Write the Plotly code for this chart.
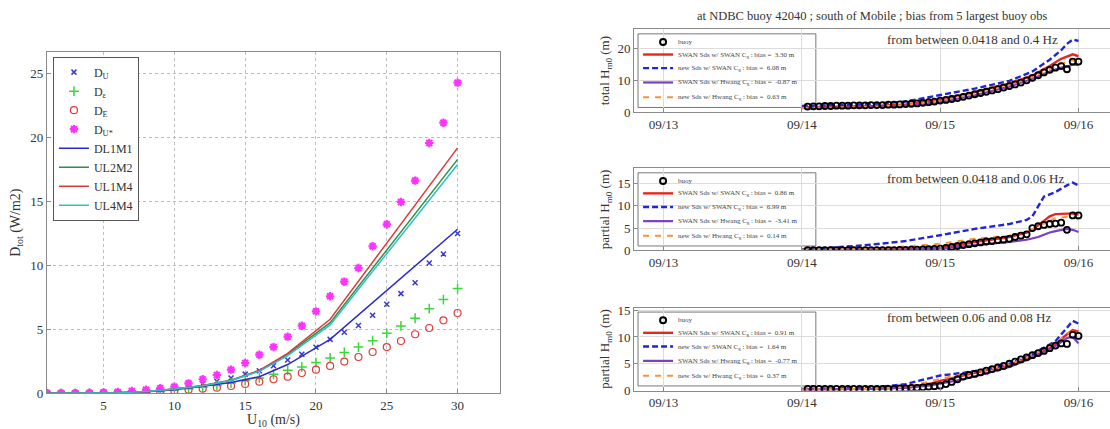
import plotly.graph_objects as go
import pandas as pd

# ---------------- Left panel data ----------------
u10 = list(range(1, 31))
d_u = [0, 0, 0.005, 0.01, 0.03, 0.06, 0.1, 0.18, 0.28, 0.4, 0.55, 0.75, 0.95, 1.2, 1.5,
       1.77, 2.16, 2.6, 3.05, 3.6, 4.22, 4.77, 5.3, 6.1, 6.96, 7.8, 8.65, 10.2, 10.9, 12.5]
d_eps = [0, 0, 0, 0.01, 0.02, 0.04, 0.07, 0.11, 0.18, 0.26, 0.36, 0.48, 0.62, 0.8, 1.0,
         1.2, 1.49, 1.8, 2.06, 2.4, 2.76, 3.2, 3.62, 4.12, 4.69, 5.27, 5.87, 6.62, 7.33, 8.2]
d_e = [0, 0, 0, 0, 0.01, 0.03, 0.05, 0.08, 0.13, 0.2, 0.27, 0.36, 0.44, 0.57, 0.73,
       0.91, 1.1, 1.3, 1.59, 1.85, 2.14, 2.48, 2.84, 3.23, 3.62, 4.09, 4.62, 5.11, 5.71, 6.28]
d_ustar = [0, 0, 0.01, 0.03, 0.06, 0.1, 0.18, 0.28, 0.39, 0.52, 0.78, 1.1, 1.43, 1.85, 2.37,
           3.02, 3.62, 4.43, 5.29, 6.41, 7.59, 8.74, 9.8, 11.5, 13.22, 14.97, 16.64, 19.58, 21.17, 24.3]

u_lines = [1, 4, 6, 8, 10, 12, 14, 16, 18, 21, 30]
dl1m1 = [0, 0.01, 0.04, 0.12, 0.28, 0.55, 0.85, 1.3, 2.25, 4.22, 12.83]
ul2m2 = [0, 0.01, 0.05, 0.14, 0.33, 0.6, 1.0, 1.75, 3.05, 5.53, 18.3]
ul1m4 = [0, 0.01, 0.05, 0.14, 0.34, 0.62, 1.03, 1.8, 3.13, 5.79, 19.2]
ul4m4 = [0, 0.01, 0.05, 0.14, 0.33, 0.6, 1.0, 1.72, 2.95, 5.35, 17.9]

# ---------------- Right panels data (hours after 2004-09-14 00:00) ----------------
buoy_hours = list(range(1, 49))
p1_buoy = [1.7, 1.8, 1.8, 1.9, 1.9, 2.0, 2.0, 2.0, 2.1, 2.1, 2.1, 2.2,
           2.2, 2.2, 2.3, 2.3, 2.4, 2.5, 2.6, 2.7, 2.9, 3.1, 3.3, 3.6,
           3.8, 4.1, 4.4, 4.8, 5.2, 5.6, 6.0, 6.4, 6.8, 7.2, 7.7, 8.2,
           8.7, 9.3, 10.0, 10.8, 11.6, 12.5, 13.3, 14.0, 14.5, 13.5, 15.9, 15.9]
p2_buoy = [0.1] * 12 + [0.1, 0.1, 0.1, 0.1, 0.15, 0.15, 0.2, 0.2, 0.25, 0.3, 0.35, 0.4,
                        0.6, 0.8, 1.0, 1.2, 1.4, 1.6, 1.8, 2.0, 2.1, 2.3, 2.4, 2.6,
                        3.0, 3.3, 3.6, 5.0, 5.4, 5.7, 5.9, 6.0, 6.2, 4.6, 7.8, 7.8]
p3_buoy = [0.3] * 12 + [0.3, 0.3, 0.3, 0.3, 0.4, 0.4, 0.5, 0.5, 0.6, 0.7, 0.8, 0.9,
                        1.2, 1.6, 2.1, 2.6, 2.9, 3.1, 3.4, 3.7, 4.0, 4.3, 4.6, 5.0,
                        5.4, 5.8, 6.2, 6.6, 7.0, 7.4, 7.9, 8.4, 8.8, 8.7, 10.4, 10.2]

p1_hours = [0, 6, 12, 18, 24, 30, 36, 40, 43, 45, 46, 47, 48]
p1_swan_swan = [1.5, 1.6, 1.8, 2.4, 3.9, 6.3, 9.0, 11.5, 14.5, 16.8, 17.6, 18.2, 17.6]
p1_new_swan = [1.9, 2.1, 2.5, 3.3, 5.3, 7.4, 9.8, 12.8, 16.5, 19.5, 21.5, 22.9, 22.4]
p1_swan_hwang = [1.2, 1.3, 1.5, 2.0, 3.1, 5.3, 8.0, 10.5, 12.8, 14.0, 14.3, 15.0, 14.8]
p1_new_hwang = [1.3, 1.4, 1.6, 2.2, 3.5, 5.8, 8.5, 11.0, 13.7, 15.3, 15.8, 16.3, 15.9]

p2_hours = [0, 6, 12, 18, 24, 30, 36, 39, 40, 41, 42, 43, 44, 46, 47, 48]
p2_swan_swan = [0.2, 0.2, 0.2, 0.3, 0.6, 1.9, 3.0, 4.0, 4.6, 5.5, 6.6, 7.6, 8.1, 8.2, 8.2, 8.0]
p2_new_swan = [0.3, 0.7, 1.3, 2.1, 3.4, 4.8, 5.9, 6.8, 7.6, 9.8, 12.0, 12.5, 13.0, 14.5, 15.1, 14.5]
p2_swan_hwang = [0.1, 0.1, 0.1, 0.2, 0.4, 1.1, 1.9, 2.4, 2.7, 3.0, 3.5, 4.0, 4.3, 4.8, 4.6, 4.1]
p2_new_hwang = [0.2, 0.3, 0.4, 0.9, 1.5, 2.6, 3.3, 4.2, 4.7, 5.3, 6.0, 6.6, 7.2, 7.5, 7.6, 7.0]

p3_hours = [0, 6, 12, 18, 22, 24, 28, 32, 36, 40, 44, 46, 47, 48]
p3_swan_swan = [0.2, 0.2, 0.3, 0.6, 1.2, 1.8, 2.8, 3.8, 4.8, 6.5, 8.6, 10.5, 11.3, 11.0]
p3_new_swan = [0.3, 0.4, 0.5, 1.2, 2.3, 2.8, 3.3, 4.0, 5.0, 6.8, 9.2, 11.8, 13.0, 12.5]
p3_swan_hwang = [0.2, 0.2, 0.3, 0.5, 0.9, 1.3, 2.1, 3.2, 4.4, 6.1, 8.3, 9.8, 10.0, 8.8]
p3_new_hwang = [0.2, 0.2, 0.3, 0.7, 1.6, 2.2, 3.0, 3.9, 4.9, 6.6, 8.9, 10.6, 11.0, 10.5]

bias_labels = [
    ["3.30", "6.08", "-0.87", "0.63"],
    ["0.86", "6.99", "-3.41", "0.14"],
    ["0.91", "1.64", "-0.77", "0.37"],
]
panel_notes = ["from between 0.0418 and 0.4 Hz",
               "from between 0.0418 and 0.06 Hz",
               "from between 0.06 and 0.08 Hz"]
panel_ytitles = ["total H<sub>m0</sub> (m)", "partial H<sub>m0</sub> (m)", "partial H<sub>m0</sub> (m)"]
panel_ticks = [[0, 10, 20], [0, 5, 10, 15], [0, 5, 10, 15]]
panel_yranges = [[0, 26.1], [0, 18.3], [0, 15.5]]
date_ticks = ["2004-09-13", "2004-09-14", "2004-09-15", "2004-09-16"]
date_ticktext = ["09/13", "09/14", "09/15", "09/16"]
series_names = ["SWAN Sds w/ SWAN C<sub>g</sub> : bias = ",
                "new Sds w/ SWAN C<sub>g</sub> : bias = ",
                "SWAN Sds w/ Hwang C<sub>g</sub> : bias = ",
                "new Sds w/ Hwang C<sub>g</sub> : bias = "]

FONT = "Liberation Serif"
base = pd.Timestamp("2004-09-14 00:00")


def to_dates(hours):
    return [base + pd.Timedelta(hours=h) for h in hours]


fig = go.Figure()

# ---- left panel traces ----
fig.add_trace(go.Scatter(x=u10, y=d_u, mode="markers", name="D<sub>U</sub>",
                         marker=dict(symbol="x-thin-open", size=5, color="#3a3acf",
                                     line=dict(width=1.5, color="#3a3acf"))))
fig.add_trace(go.Scatter(x=u10, y=d_eps, mode="markers", name="D<sub>ε</sub>",
                         marker=dict(symbol="cross-thin-open", size=7, color="#3bd63b",
                                     line=dict(width=1.5, color="#3bd63b"))))
fig.add_trace(go.Scatter(x=u10, y=d_e, mode="markers", name="D<sub>E</sub>",
                         marker=dict(symbol="circle-open", size=7, color="#e03c3c",
                                     line=dict(width=1.2, color="#e03c3c"))))
fig.add_trace(go.Scatter(x=u10, y=d_ustar, mode="markers", name="D<sub>U*</sub>",
                         marker=dict(symbol="asterisk-open", size=7, color="#ff33ff",
                                     line=dict(width=2.2, color="#ff33ff"))))
for nm, yv, col in [("DL1M1", dl1m1, "#2a2ad0"), ("UL2M2", ul2m2, "#2f8f45"),
                    ("UL1M4", ul1m4, "#dd3a3a"), ("UL4M4", ul4m4, "#2cc0c8")]:
    fig.add_trace(go.Scatter(x=u_lines, y=yv, mode="lines", name=nm,
                             line=dict(color=col, width=1.5)))

# ---- right panels traces ----
styles = [dict(color="#e8261e", width=2.4),
          dict(color="#2323d8", width=2.4, dash="6px,3px"),
          dict(color="#7b3fc4", width=2.2),
          dict(color="#f7943a", width=2.0, dash="6px,6px")]
panels = [
    (p1_buoy, p1_hours, [p1_swan_swan, p1_new_swan, p1_swan_hwang, p1_new_hwang]),
    (p2_buoy, p2_hours, [p2_swan_swan, p2_new_swan, p2_swan_hwang, p2_new_hwang]),
    (p3_buoy, p3_hours, [p3_swan_swan, p3_new_swan, p3_swan_hwang, p3_new_hwang]),
]
for i, (buoy, hrs, models) in enumerate(panels):
    ax = str(i + 2)
    for m, st in zip(models, styles):
        fig.add_trace(go.Scatter(x=to_dates(hrs), y=m, mode="lines", line=st,
                                 showlegend=False, xaxis="x" + ax, yaxis="y" + ax))
    fig.add_trace(go.Scatter(x=to_dates(buoy_hours), y=buoy, mode="markers",
                             marker=dict(symbol="circle-open", size=6, color="black",
                                         line=dict(width=1.8, color="black")),
                             showlegend=False, xaxis="x" + ax, yaxis="y" + ax))

# ---- layout ----
axis_common = dict(showline=True, mirror=True, linecolor="#8a8a8a", linewidth=1,
                   ticks="inside", ticklen=4, tickcolor="#8a8a8a", zeroline=False,
                   automargin=False, tickfont=dict(family=FONT, size=13, color="#333"))

layout = dict(
    width=1110, height=429, margin=dict(l=0, r=0, t=0, b=0),
    paper_bgcolor="white", plot_bgcolor="white",
    font=dict(family=FONT, color="#333"),
    xaxis=dict(domain=[0.0423, 0.4505], range=[1, 33], tickvals=[5, 10, 15, 20, 25, 30],
               showgrid=True, gridcolor="#bdbdbd", griddash="dot",
               title=dict(text="U<sub>10</sub> (m/s)", font=dict(family=FONT, size=14), standoff=4),
               **axis_common),
    yaxis=dict(domain=[0.0832, 0.8788], range=[0, 26.7], tickvals=[0, 5, 10, 15, 20, 25],
               showgrid=True, gridcolor="#bdbdbd", griddash="dot",
               title=dict(text="D<sub>tot</sub> (W/m2)", font=dict(family=FONT, size=14), standoff=6),
               **axis_common),
    legend=dict(x=0.0477, y=0.868, xanchor="left", yanchor="top", bgcolor="white",
                bordercolor="#555", borderwidth=1, itemwidth=30,
                font=dict(family=FONT, size=12, color="#333"), tracegroupgap=0),
    showlegend=True,
)

ydomains = [[0.7389, 0.9317], [0.4161, 0.6077], [0.0897, 0.2832]]
xrange_right = ["2004-09-12 18:53", "2004-09-16 05:28"]
for i in range(3):
    ax = str(i + 2)
    layout["xaxis" + ax] = dict(domain=[0.5712, 1.0], range=xrange_right, type="date",
                                anchor="y" + ax, tickvals=date_ticks, ticktext=date_ticktext,
                                showgrid=True, gridcolor="#dcdcdc", **axis_common)
    layout["yaxis" + ax] = dict(domain=ydomains[i], range=panel_yranges[i], anchor="x" + ax,
                                tickvals=panel_ticks[i], showgrid=True, gridcolor="#dcdcdc",
                                title=dict(text=panel_ytitles[i], font=dict(family=FONT, size=13),
                                           standoff=4),
                                **axis_common)

fig.update_layout(**layout)

shapes = []
annotations = [dict(text="at NDBC buoy 42040 ; south of Mobile ; bias from 5 largest buoy obs",
                    xref="paper", yref="paper", x=872 / 1110, y=1 - 15.8 / 429,
                    xanchor="center", yanchor="middle", showarrow=False,
                    font=dict(family=FONT, size=12.5, color="#333"))]
rows = [0.845, 0.695, 0.53, 0.357, 0.178]
for i in range(3):
    xr = "x%d domain" % (i + 2)
    yr = "y%d domain" % (i + 2)
    shapes.append(dict(type="rect", xref=xr, yref=yr, x0=0.0084, x1=0.382, y0=0.055, y1=0.945,
                       line=dict(color="#777", width=1), fillcolor="white", layer="below"))
    shapes.append(dict(type="circle", xref=xr, yref=yr, xsizemode="pixel", ysizemode="pixel",
                       xanchor=0.061, yanchor=rows[0], x0=-3, x1=3, y0=-3, y1=3,
                       line=dict(color="black", width=2), layer="above"))
    annotations.append(dict(text="buoy", xref=xr, yref=yr, x=0.088, y=rows[0],
                            xanchor="left", yanchor="middle", showarrow=False,
                            font=dict(family=FONT, size=7, color="#444")))
    for k in range(4):
        st = styles[k]
        shapes.append(dict(type="line", xref=xr, yref=yr, x0=0.019, x1=0.082,
                           y0=rows[k + 1], y1=rows[k + 1],
                           line=dict(color=st["color"], width=st["width"],
                                     dash=st.get("dash", "solid")), layer="above"))
        annotations.append(dict(text=series_names[k] + " " + bias_labels[i][k] + " m",
                                xref=xr, yref=yr, x=0.088, y=rows[k + 1],
                                xanchor="left", yanchor="middle", showarrow=False,
                                font=dict(family=FONT, size=7, color="#444")))
    annotations.append(dict(text=panel_notes[i], xref=xr, yref=yr, x=0.528, y=0.88,
                            xanchor="left", yanchor="middle", showarrow=False,
                            font=dict(family=FONT, size=13, color="#333")))

fig.update_layout(shapes=shapes, annotations=annotations)
fig.write_html("out.html")
